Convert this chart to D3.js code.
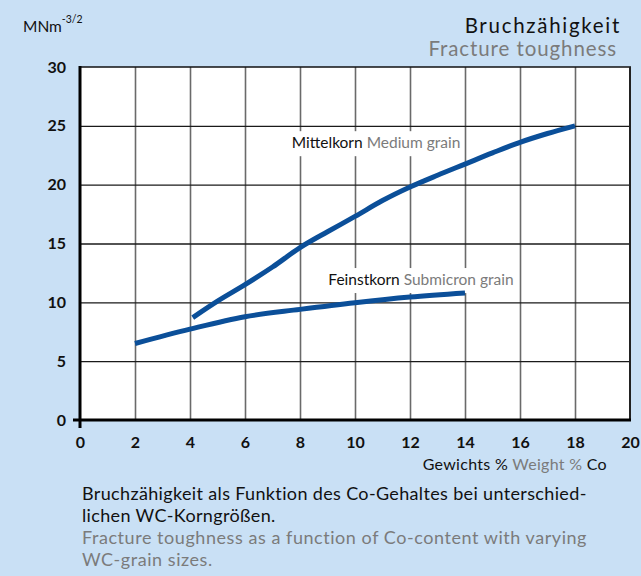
<!DOCTYPE html>
<html>
<head>
<meta charset="utf-8">
<script src="https://cdn.jsdelivr.net/npm/d3@7"></script>
<style>
  html, body { margin: 0; padding: 0; background: #c9e0f5; }
  svg { display: block; }
  text { font-family: Lato, "Open Sans", sans-serif; }
</style>
</head>
<body>
<svg id="chart" width="641" height="576"></svg>
<script>
// ---- data ----
const xTicks = [0, 2, 4, 6, 8, 10, 12, 14, 16, 18, 20];
const yTicks = [0, 5, 10, 15, 20, 25, 30];
const mediumX = [4.1, 5, 6, 7, 8, 9, 10, 11, 12, 13, 14, 15, 16, 17, 18];
const mediumY = [8.7, 10.1, 11.5, 13.0, 14.65, 16.0, 17.3, 18.65, 19.8, 20.8, 21.75, 22.7, 23.6, 24.35, 25.0];
const submicronX = [2, 4, 6, 8, 10, 12, 14];
const submicronY = [6.5, 7.72, 8.78, 9.4, 9.97, 10.45, 10.8];
const seriesNames = [["Mittelkorn", "Medium grain"], ["Feinstkorn", "Submicron grain"]];
const titleDe = "Bruchzähigkeit";
const titleEn = "Fracture toughness";
const unitMain = "MNm";
const unitSup = "-3/2";
const xLabel = ["Gewichts %", "Weight %", "Co"];
const captionDe = ["Bruchzähigkeit als Funktion des Co-Gehaltes bei unterschied-", "lichen WC-Korngrößen."];
const captionEn = ["Fracture toughness as a function of Co-content with varying", "WC-grain sizes."];

(function () {
// ---- layout ----
const W = 641, H = 576;
const pL = 80, pR = 630, pT = 67, pB = 420;
const BLUE = "#0b4f99", GRAY = "#7b7b7b", DARK = "#111";

const svg = d3.select("#chart");
svg.append("rect").attr("width", W).attr("height", H).attr("fill", "#c9e0f5");

const x = d3.scaleLinear().domain([0, 20]).range([pL, pR]);
const y = d3.scaleLinear().domain([0, 30]).range([pB, pT]);

// plot area
svg.append("rect").attr("x", pL).attr("y", pT)
  .attr("width", pR - pL).attr("height", pB - pT).attr("fill", "#fff");

// vertical grid
const gx = svg.append("g").attr("transform", `translate(0,${pB})`)
  .call(d3.axisBottom(x).tickValues(xTicks.filter(d => d > 0 && d < 20)).tickSize(-(pB - pT)).tickFormat(""));
gx.select(".domain").remove();
gx.selectAll("line").attr("stroke", "#6a6a6a").attr("stroke-width", 1.6);

// horizontal grid
const gy = svg.append("g").attr("transform", `translate(${pL},0)`)
  .call(d3.axisLeft(y).tickValues(yTicks.filter(d => d > 0 && d < 30)).tickSize(-(pR - pL)).tickFormat(""));
gy.select(".domain").remove();
gy.selectAll("line").attr("stroke", "#1a1a1a").attr("stroke-width", 1.3);

// frame top / right
svg.append("line").attr("x1", pL).attr("x2", pR + 1).attr("y1", pT).attr("y2", pT)
  .attr("stroke", "#111").attr("stroke-width", 1.6);
svg.append("line").attr("x1", pR).attr("x2", pR).attr("y1", pT).attr("y2", pB)
  .attr("stroke", "#222").attr("stroke-width", 2);

// series label backgrounds + labels
function seriesLabel(names, xv, yv, bgW) {
  const px = x(xv), py = y(yv);
  svg.append("rect").attr("x", px - 3).attr("y", py - 17).attr("width", bgW).attr("height", 25).attr("fill", "#fff");
  const t = svg.append("text").attr("x", px).attr("y", py).attr("font-size", 15.5);
  t.append("tspan").attr("fill", DARK).text(names[0] + " ");
  t.append("tspan").attr("fill", GRAY).text(names[1]);
}
seriesLabel(seriesNames[0], 7.7, 23.1, 174);
seriesLabel(seriesNames[1], 9.03, 11.47, 190);

// lines
const line = d3.line().x(d => x(d[0])).y(d => y(d[1])).curve(d3.curveCatmullRom.alpha(0.5));
[[mediumX, mediumY], [submicronX, submicronY]].forEach(([xs, ys]) => {
  svg.append("path").datum(xs.map((v, i) => [v, ys[i]]))
    .attr("d", line).attr("fill", "none").attr("stroke", BLUE).attr("stroke-width", 5);
});

// axes lines
svg.append("line").attr("x1", pL).attr("x2", pL).attr("y1", pT - 1).attr("y2", pB + 8)
  .attr("stroke", "#000").attr("stroke-width", 3);
svg.append("line").attr("x1", pL - 7).attr("x2", pR + 1).attr("y1", pB).attr("y2", pB)
  .attr("stroke", "#000").attr("stroke-width", 3);

// tick labels
const ax = svg.append("g").attr("transform", `translate(0,${pB})`)
  .call(d3.axisBottom(x).tickValues(xTicks).tickSize(0).tickPadding(17));
ax.select(".domain").remove();
ax.selectAll("text").attr("font-family", "Lato, sans-serif").attr("font-size", 16).attr("font-weight", 700).attr("fill", DARK);

const ay = svg.append("g").attr("transform", `translate(${pL},0)`)
  .call(d3.axisLeft(y).tickValues(yTicks).tickSize(0).tickPadding(14));
ay.select(".domain").remove();
ay.selectAll("text").attr("font-family", "Lato, sans-serif").attr("font-size", 16).attr("font-weight", 700).attr("fill", DARK);

// unit
const u = svg.append("text").attr("x", 23).attr("y", 32).attr("font-size", 15.5).attr("fill", DARK);
u.append("tspan").text(unitMain);
u.append("tspan").attr("dy", -9).attr("font-size", 10.5).text(unitSup);

// titles
svg.append("text").attr("x", 621).attr("y", 33).attr("text-anchor", "end")
  .attr("font-size", 20.5).attr("letter-spacing", 1.7).attr("fill", DARK).text(titleDe);
svg.append("text").attr("x", 617).attr("y", 56).attr("text-anchor", "end")
  .attr("font-size", 20.5).attr("letter-spacing", 0.9).attr("fill", GRAY).text(titleEn);

// x label
const xl = svg.append("text").attr("x", 607).attr("y", 470).attr("text-anchor", "end")
  .attr("font-size", 16).attr("letter-spacing", 0.3);
xl.append("tspan").attr("fill", DARK).text(xLabel[0] + " ");
xl.append("tspan").attr("fill", GRAY).text(xLabel[1] + " ");
xl.append("tspan").attr("fill", DARK).text(xLabel[2]);

// caption
const cap = svg.append("g").attr("font-size", 18);
captionDe.forEach((s, i) => cap.append("text").attr("x", 82).attr("y", 500 + i * 22)
  .attr("letter-spacing", 0.35).attr("fill", DARK).text(s));
captionEn.forEach((s, i) => cap.append("text").attr("x", 82).attr("y", 544 + i * 22)
  .attr("letter-spacing", 0.55).attr("fill", GRAY).text(s));
})();
</script>
</body>
</html>
